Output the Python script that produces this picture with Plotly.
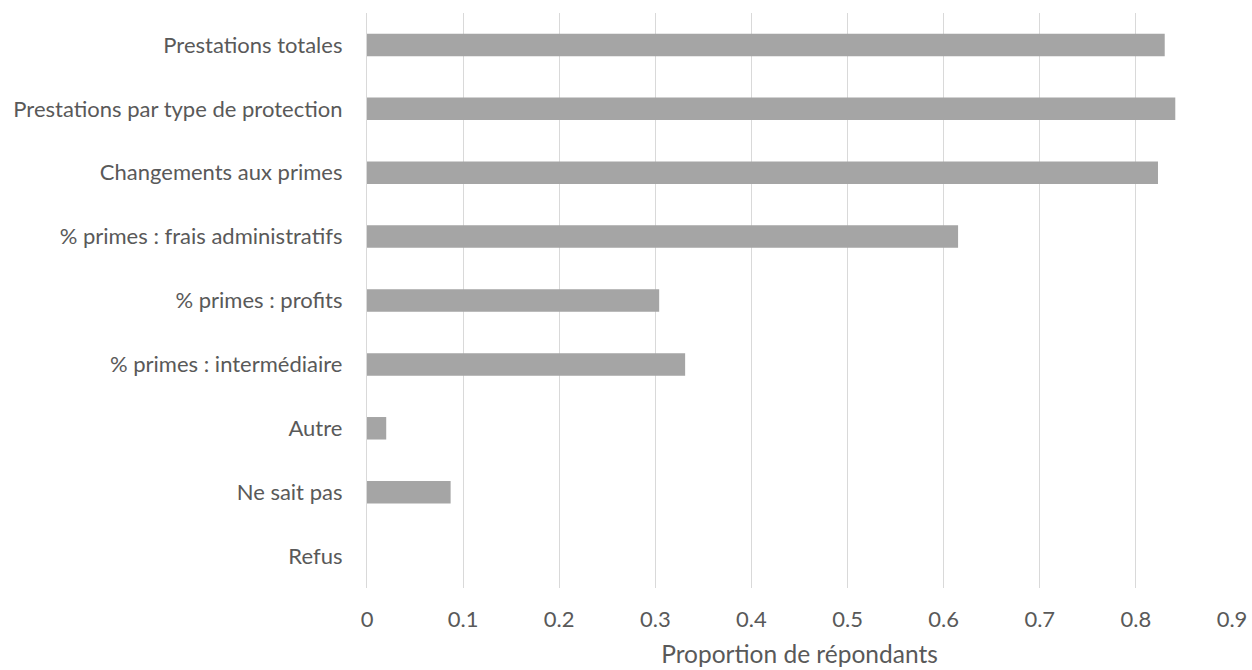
import plotly.graph_objects as go

categories = [
    "Prestations totales",
    "Prestations par type de protection",
    "Changements aux primes",
    "% primes : frais administratifs",
    "% primes : profits",
    "% primes : intermédiaire",
    "Autre",
    "Ne sait pas",
    "Refus",
]
values = [0.830, 0.841, 0.823, 0.615, 0.304, 0.331, 0.020, 0.087, 0.0]
x_ticks = [0, 0.1, 0.2, 0.3, 0.4, 0.5, 0.6, 0.7, 0.8, 0.9]
x_tick_labels = ["0", "0.1", "0.2", "0.3", "0.4", "0.5", "0.6", "0.7", "0.8", "0.9"]

FONT = "Lato"
TXT = "#595959"

fig = go.Figure(
    go.Bar(
        x=values,
        y=categories,
        orientation="h",
        marker=dict(color="#a5a5a5", line=dict(width=0)),
    )
)

fig.update_layout(
    width=1252,
    height=670,
    margin=dict(l=367, r=20, t=13, b=82),
    paper_bgcolor="white",
    plot_bgcolor="white",
    bargap=0.648,
    showlegend=False,
    font=dict(family=FONT, color=TXT, size=21),
)

fig.update_xaxes(
    range=[0, 0.9],
    tickvals=x_ticks,
    ticktext=x_tick_labels,
    showgrid=True,
    gridcolor="#d9d9d9",
    gridwidth=1.3,
    zeroline=False,
    showline=False,
    ticks="",
    ticklabelstandoff=16,
    tickfont=dict(family=FONT, color=TXT, size=22),
    title=dict(text="Proportion de répondants", font=dict(family=FONT, color=TXT, size=24.5), standoff=14),
    automargin=False,
)

fig.update_yaxes(
    categoryorder="array",
    categoryarray=categories,
    autorange="reversed",
    showgrid=False,
    zeroline=False,
    showline=True,
    linecolor="#d9d9d9",
    linewidth=1.3,
    ticks="",
    ticklabelstandoff=19,
    tickfont=dict(family=FONT, color=TXT, size=22),
    automargin=False,
)

fig.write_html("out.html")
